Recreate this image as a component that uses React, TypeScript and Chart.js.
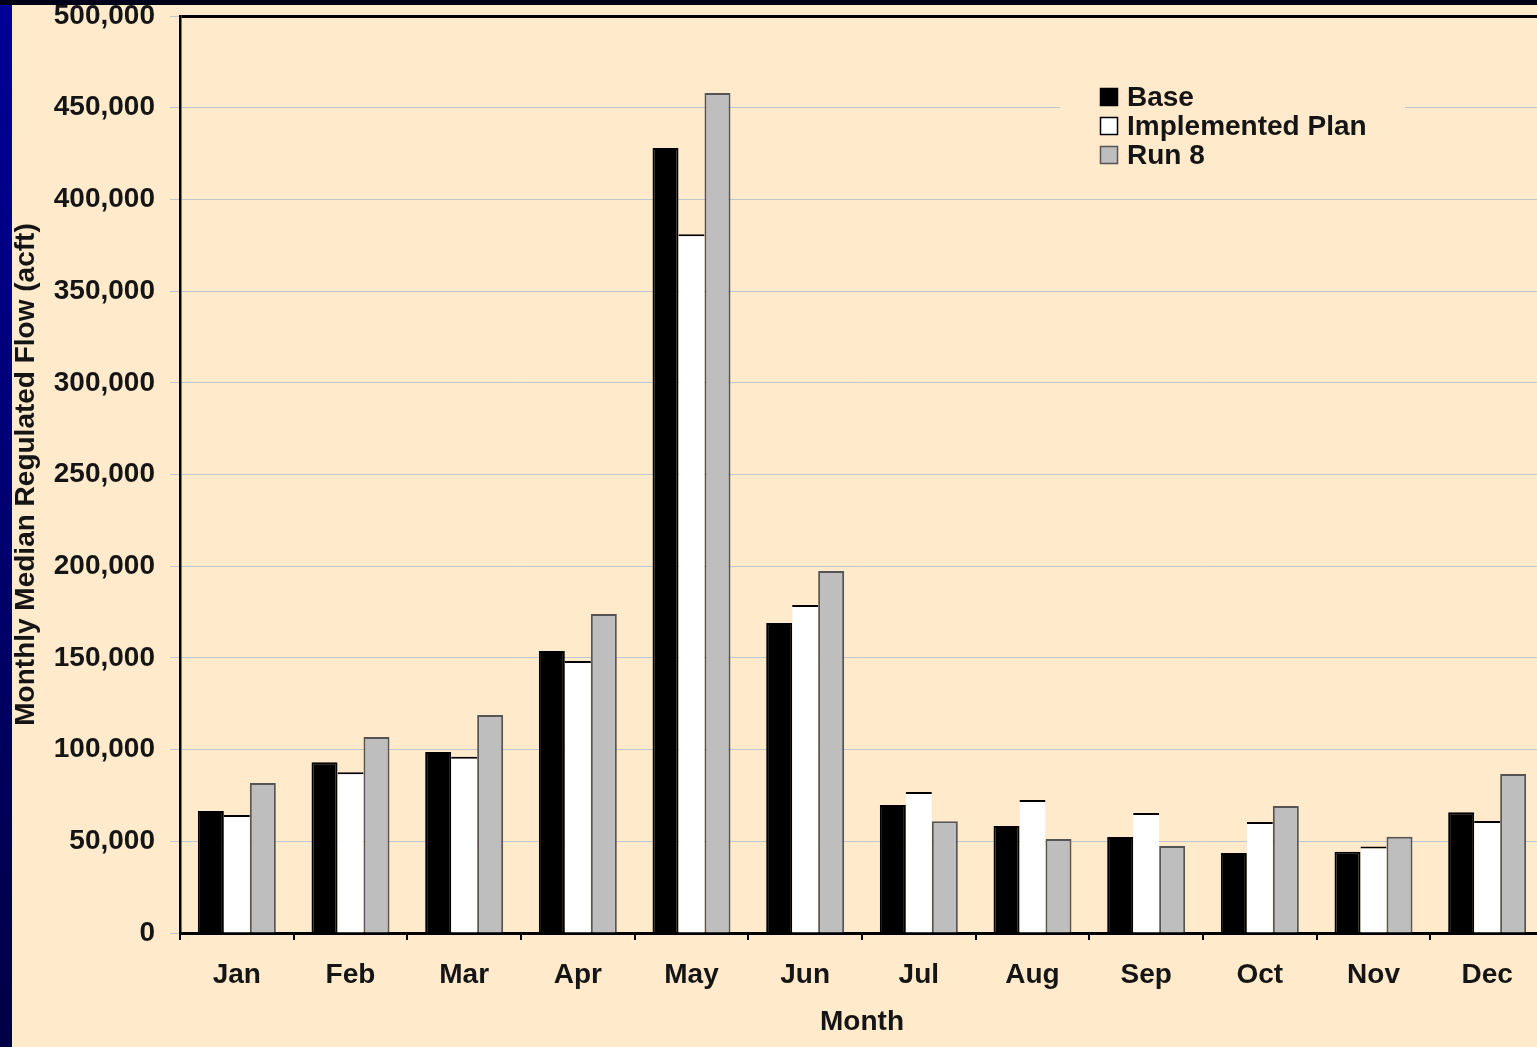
import { useEffect, useRef } from 'react';
import { Chart, registerables } from 'chart.js';

Chart.register(...registerables);

const months = ['Jan', 'Feb', 'Mar', 'Apr', 'May', 'Jun', 'Jul', 'Aug', 'Sep', 'Oct', 'Nov', 'Dec'];
const baseFlow = [66500, 93100, 98700, 153800, 428000, 169000, 69800, 58300, 52300, 43600, 44300, 65800];
const implementedPlanFlow = [64300, 87600, 96100, 148300, 381000, 178900, 76900, 72500, 65400, 60500, 47100, 61100];
const run8Flow = [81800, 106900, 118900, 174000, 458000, 197400, 61000, 51300, 47400, 69300, 52500, 86700];
const seriesLabels = ['Base', 'Implemented Plan', 'Run 8'];
const yMin = 0;
const yMax = 500000;
const yStep = 50000;
const xTitle = 'Month';
const yTitle = 'Monthly Median Regulated Flow (acft)';

const FONT = "'Liberation Sans', Arial, Helvetica, sans-serif";
const BEIGE = '#FFEACC';
const TEXT = '#151515';
const GRID = 'rgba(170,185,210,0.75)';

const legendPlugin = {
  id: 'insideLegend',
  afterDraw(chart: any) {
    const ctx = chart.ctx;
    ctx.save();
    ctx.fillStyle = BEIGE;
    ctx.fillRect(1048, 78, 345, 92);
    ctx.font = `bold 28px ${FONT}`;
    ctx.textBaseline = 'middle';
    ctx.textAlign = 'left';
    chart.data.datasets.forEach((ds: any, i: number) => {
      const cy = 92 + i * 29;
      ctx.fillStyle = ds.backgroundColor;
      ctx.fillRect(1088, cy - 9, 18, 18);
      ctx.lineWidth = 1.5;
      ctx.strokeStyle = ds.legendBorder || ds.borderColor;
      ctx.strokeRect(1088.5, cy - 8.5, 17, 17);
      ctx.fillStyle = TEXT;
      ctx.fillText(ds.label, 1115, cy + 1);
    });
    ctx.restore();
  },
};

export default function App() {
  const canvasRef = useRef<HTMLCanvasElement | null>(null);

  useEffect(() => {
    const canvas = canvasRef.current;
    if (!canvas) return;
    const chart = new Chart(canvas, {
      type: 'bar',
      data: {
        labels: months,
        datasets: [
          {
            label: seriesLabels[0],
            data: baseFlow,
            backgroundColor: '#000000',
            borderColor: '#000000',
            borderWidth: 2,
          },
          {
            label: seriesLabels[1],
            data: implementedPlanFlow,
            backgroundColor: '#FFFFFF',
            borderColor: '#000000',
            borderWidth: { top: 2, left: 0, right: 0, bottom: 0 },
            legendBorder: '#000000',
          },
          {
            label: seriesLabels[2],
            data: run8Flow,
            backgroundColor: '#BEBEBE',
            borderColor: '#555555',
            borderWidth: 2,
          },
        ],
      },
      options: {
        responsive: false,
        maintainAspectRatio: false,
        animation: false,
        devicePixelRatio: 1,
        layout: { padding: { top: 11, right: 13, left: 0, bottom: 0 } },
        datasets: {
          bar: { categoryPercentage: 0.686, barPercentage: 1 },
        },
        plugins: {
          legend: { display: false },
          tooltip: { enabled: false },
        },
        scales: {
          x: {
            type: 'category',
            offset: true,
            grid: {
              display: true,
              drawOnChartArea: false,
              drawTicks: true,
              tickLength: 7,
              offset: true,
              color: '#000',
              lineWidth: 2,
            },
            border: { display: true, color: '#000', width: 3 },
            ticks: {
              color: TEXT,
              font: { family: FONT, size: 28, weight: 'bold' },
              padding: 18,
              maxRotation: 0,
              autoSkip: false,
            },
            title: {
              display: true,
              text: xTitle,
              color: TEXT,
              font: { family: FONT, size: 28, weight: 'bold', lineHeight: 1 },
              padding: { top: 0, bottom: 11 },
            },
            afterFit: (s: any) => {
              s.height = 114;
            },
          },
          y: {
            min: yMin,
            max: yMax,
            ticks: {
              stepSize: yStep,
              padding: 15,
              color: TEXT,
              font: { family: FONT, size: 28, weight: 'bold' },
              callback: (v: any) => Number(v).toLocaleString('en-US'),
            },
            grid: {
              color: (c: any) => (c.tick && c.tick.value === yMax ? '#000' : GRID),
              lineWidth: (c: any) => (c.tick && c.tick.value === yMax ? 3 : 1),
              tickColor: GRID,
              tickWidth: 1,
              tickLength: 10,
              drawTicks: true,
            },
            border: { display: true, color: '#000', width: 2.5 },
            title: {
              display: true,
              text: yTitle,
              color: TEXT,
              font: { family: FONT, size: 28, weight: 'bold', lineHeight: 1 },
              padding: { top: 0, bottom: 0 },
            },
            afterFit: (s: any) => {
              s.width = 168;
              s.paddingTop = 0;
              s.paddingBottom = 0;
            },
          },
        },
      },
      plugins: [legendPlugin],
    } as any);
    return () => chart.destroy();
  }, []);

  return (
    <div
      style={{
        position: 'fixed',
        left: 0,
        top: 0,
        width: 1537,
        height: 1047,
        overflow: 'hidden',
        background: 'linear-gradient(to bottom, #000098, #000046)',
      }}
    >
      <div style={{ position: 'absolute', left: 0, top: 0, width: '100%', height: 5, background: '#000018' }} />
      <div style={{ position: 'absolute', left: 12, top: 5, width: 1545, height: 1042, background: BEIGE }}>
        <canvas ref={canvasRef} width={1545} height={1042} style={{ display: 'block', width: 1545, height: 1042 }} />
      </div>
    </div>
  );
}
